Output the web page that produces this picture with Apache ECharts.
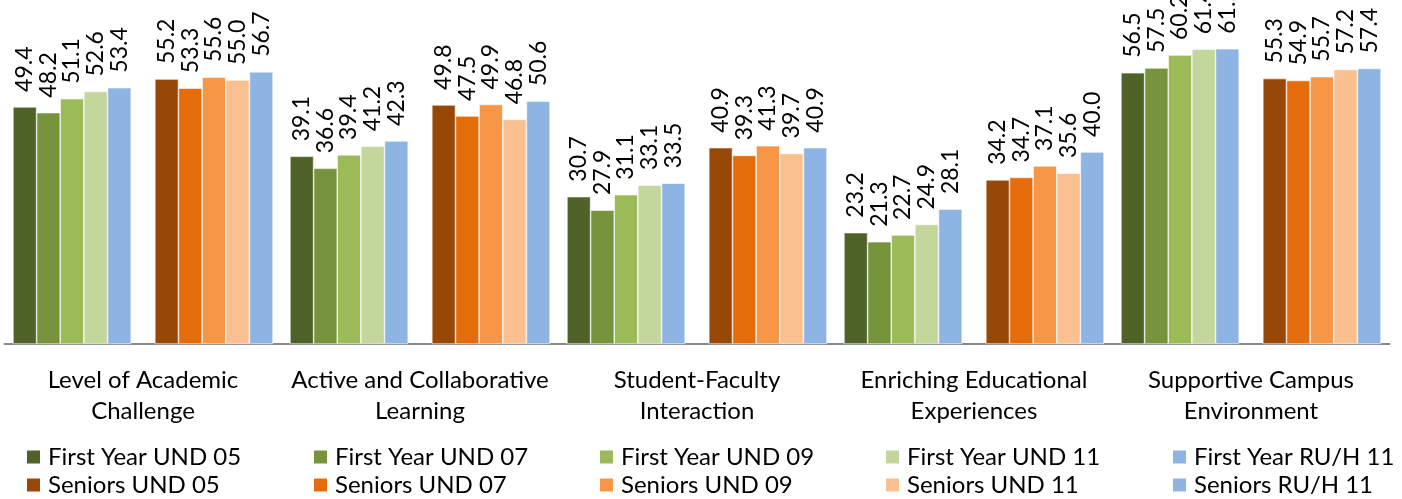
<!DOCTYPE html>
<html>
<head>
<meta charset="utf-8">
<script src="https://cdn.jsdelivr.net/npm/echarts@6/dist/echarts.min.js"></script>
<style>html,body{margin:0;padding:0;background:#fff}#c{width:1402px;height:499px}</style>
</head>
<body>
<div id="c"></div>
<script>
const categories = ["Level of Academic\nChallenge", "Active and Collaborative\nLearning", "Student-Faculty\nInteraction", "Enriching Educational\nExperiences", "Supportive Campus\nEnvironment"];
const firstYearUND05 = [49.4, 39.1, 30.7, 23.2, 56.5];
const firstYearUND07 = [48.2, 36.6, 27.9, 21.3, 57.5];
const firstYearUND09 = [51.1, 39.4, 31.1, 22.7, 60.2];
const firstYearUND11 = [52.6, 41.2, 33.1, 24.9, 61.4];
const firstYearRUH11 = [53.4, 42.3, 33.5, 28.1, 61.5];
const seniorsUND05 = [55.2, 49.8, 40.9, 34.2, 55.3];
const seniorsUND07 = [53.3, 47.5, 39.3, 34.7, 54.9];
const seniorsUND09 = [55.6, 49.9, 41.3, 37.1, 55.7];
const seniorsUND11 = [55.0, 46.8, 39.7, 35.6, 57.2];
const seniorsRUH11 = [56.7, 50.6, 40.9, 40.0, 57.4];

const FONT = "Lato, 'Open Sans', sans-serif";
const seriesDefs = [
  ["First Year UND 05", firstYearUND05, "#4F6228"],
  ["First Year UND 07", firstYearUND07, "#77933C"],
  ["First Year UND 09", firstYearUND09, "#9BBB59"],
  ["First Year UND 11", firstYearUND11, "#C3D69B"],
  ["First Year RU/H 11", firstYearRUH11, "#8EB4E3"],
  ["__gap", [null, null, null, null, null], "transparent"],
  ["Seniors UND 05", seniorsUND05, "#974806"],
  ["Seniors UND 07", seniorsUND07, "#E46C0A"],
  ["Seniors UND 09", seniorsUND09, "#F79646"],
  ["Seniors UND 11", seniorsUND11, "#FAC090"],
  ["Seniors RU/H 11", seniorsRUH11, "#8EB4E3"]
];

const series = seriesDefs.map(([name, data, color]) => ({
  name: name,
  type: 'bar',
  data: data,
  barGap: '0%',
  barCategoryGap: '6.1%',
  itemStyle: { color: color, borderColor: '#ffffff', borderWidth: name === '__gap' ? 0 : 0.6 },
  label: {
    show: name !== '__gap',
    position: 'top',
    rotate: 90,
    align: 'left',
    verticalAlign: 'middle',
    distance: 15,
    fontSize: 23,
    fontFamily: FONT,
    color: '#000',
    formatter: p => p.value == null ? '' : Number(p.value).toFixed(1)
  },
  emphasis: { disabled: true },
  animation: false
}));

const legendCols = [25, 312, 598, 884, 1171];
const legendRows = [445, 473];
const legends = [];
legendCols.forEach((x, i) => {
  [seriesDefs[i][0], seriesDefs[i + 6][0]].forEach((nm, r) => {
    legends.push({
      orient: 'horizontal',
      left: x,
      top: legendRows[r],
      itemWidth: 15,
      itemHeight: 15,
      icon: 'rect',
      padding: 0,
      textStyle: { fontSize: 24, lineHeight: 24, fontFamily: FONT, color: '#000', padding: [0, 0, 0, 2] },
      data: [nm],
      selectedMode: false
    });
  });
});

const chart = echarts.init(document.getElementById('c'), null, { renderer: 'canvas' });
chart.setOption({
  animation: false,
  grid: { left: 4.5, right: 12.5, top: 8, bottom: 155, containLabel: false },
  xAxis: {
    type: 'category',
    data: categories,
    axisLine: { lineStyle: { color: '#898989', width: 2 } },
    axisTick: { show: false },
    axisLabel: { fontSize: 24, fontFamily: FONT, color: '#000', lineHeight: 31, margin: 21, interval: 0 }
  },
  yAxis: { type: 'value', min: 0, max: 70, show: false, splitLine: { show: false } },
  legend: legends,
  series: series
});
</script>
</body>
</html>
